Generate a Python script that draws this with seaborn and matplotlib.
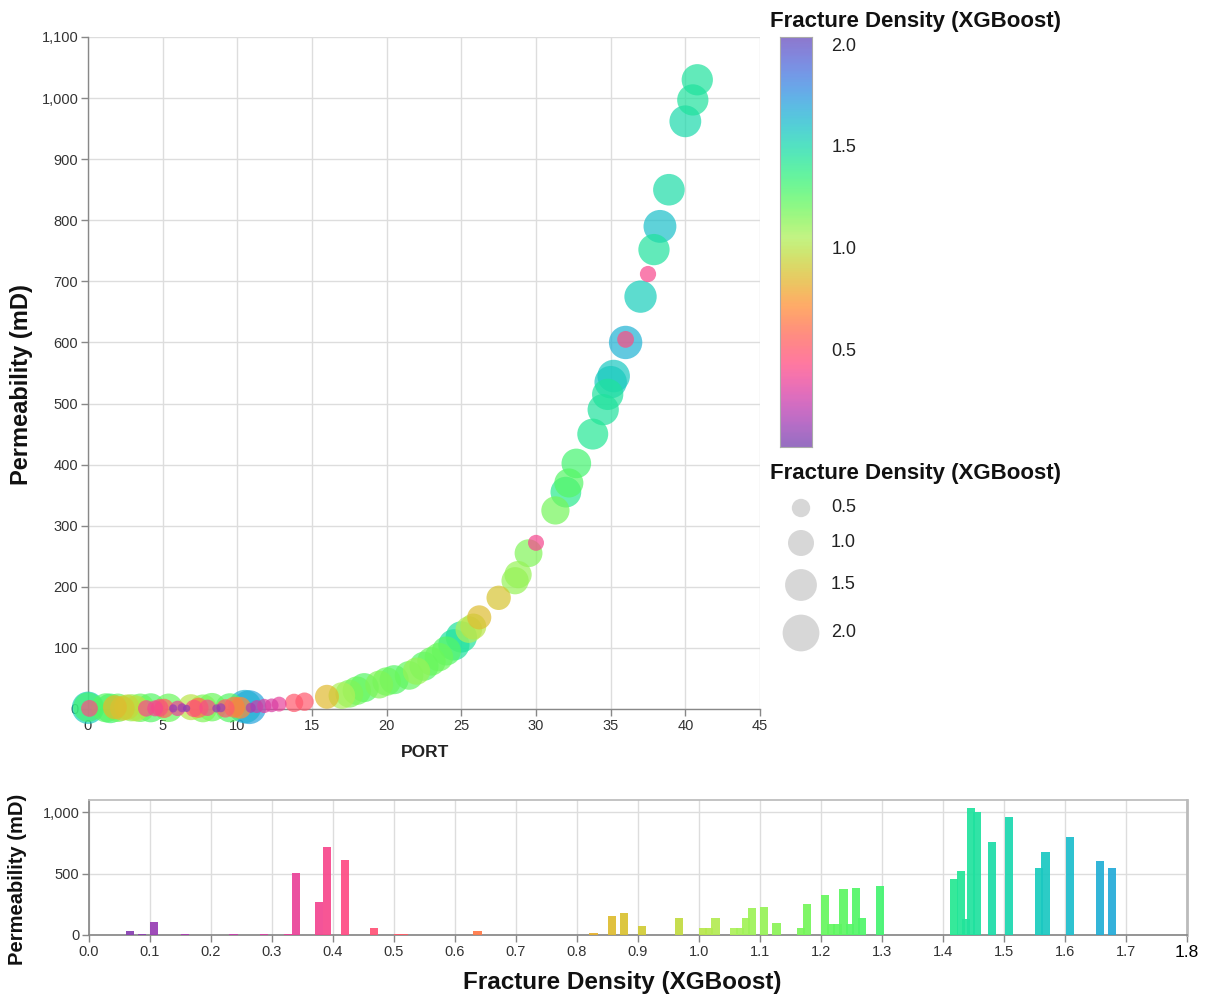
import numpy as np
import pandas as pd
import matplotlib
matplotlib.use("Agg")
import matplotlib.pyplot as plt
import seaborn as sns
from matplotlib.colors import ListedColormap, Normalize
from matplotlib.ticker import FuncFormatter, MultipleLocator

# ---------------- data ----------------
port = [0.0, 0.0, 0.1, 1.2, 1.5, 1.8, 2.0, 2.3, 2.6, 2.9, 3.2, 3.5,
        3.9, 4.2, 4.5, 4.8, 5.1, 5.4, 5.7, 6.0, 6.3, 6.6, 6.9, 7.1,
        7.4, 7.7, 8.0, 8.3, 8.6, 8.9, 9.2, 9.5, 9.8, 10.2, 10.5, 10.8,
        10.9, 11.3, 11.8, 12.3, 12.8, 13.8, 14.5,
        16.0, 17.0, 17.5, 18.0, 18.5, 19.5, 20.0, 20.5, 21.5, 22.0,
        22.5, 23.0, 23.5, 24.0, 24.5, 25.0, 25.5, 25.8, 26.2, 27.5,
        28.6, 28.8, 29.5, 30.0, 31.3, 32.0, 32.2, 32.7, 33.8, 34.5,
        34.8, 35.0, 35.2, 36.0, 36.0, 37.0, 37.5, 37.9, 38.3, 38.9,
        40.0, 40.5, 40.8]
perm = [2, 3, 1, 2, 1, 3, 2, 1, 3, 2, 1, 2,
        1, 2, 1, 2, 1, 2, 1, 1, 2, 1, 3, 1,
        2, 1, 2, 3, 1, 2, 1, 2, 3, 2, 4, 3,
        2, 4, 5, 6, 8, 10, 12,
        20, 22, 25, 30, 35, 40, 45, 48, 55, 62,
        70, 78, 85, 95, 105, 118, 130, 135, 150, 182,
        210, 220, 255, 272, 325, 355, 370, 402, 450, 490,
        515, 535, 545, 600, 605, 675, 712, 752, 790, 850,
        962, 997, 1030]
frac = [1.55, 1.30, 0.42, 1.25, 1.30, 0.85, 1.20, 0.90, 0.95, 1.10, 1.00, 1.20,
        0.40, 1.25, 0.38, 0.45, 0.55, 1.20, 0.10, 0.35, 0.12, 0.08, 1.00, 0.45,
        0.60, 1.15, 0.40, 1.20, 0.10, 0.12, 0.50, 1.25, 0.65, 0.70, 1.65, 1.70,
        0.15, 0.25, 0.30, 0.28, 0.33, 0.50, 0.50,
        0.85, 1.05, 1.15, 1.20, 1.25, 1.15, 1.20, 1.25, 1.22, 1.10,
        1.25, 1.20, 1.20, 1.25, 1.45, 1.45, 1.05, 1.00, 0.86, 0.88,
        1.10, 1.10, 1.15, 0.38, 1.18, 1.40, 1.25, 1.30, 1.42, 1.45,
        1.45, 1.56, 1.57, 1.65, 0.42, 1.55, 0.39, 1.45, 1.60, 1.48,
        1.50, 1.45, 1.45]

bar_fd = [0.067, 0.087, 0.107, 0.157, 0.237, 0.287, 0.327, 0.339, 0.377, 0.390,
          0.420, 0.467, 0.507, 0.517, 0.637, 0.827, 0.857, 0.877, 0.907, 0.967,
          1.007, 1.017, 1.027, 1.057, 1.067, 1.077, 1.087, 1.107, 1.127, 1.167,
          1.177, 1.207, 1.217, 1.227, 1.237, 1.247, 1.257, 1.267, 1.297, 1.418,
          1.429, 1.4375, 1.446, 1.456, 1.480, 1.508, 1.557, 1.568, 1.608, 1.658,
          1.677, 1.727]
bar_perm = [33, 5, 109, 5, 6, 8, 8, 507, 272, 714,
            610, 54, 12, 12, 33, 18, 155, 183, 74, 142,
            54, 54, 142, 60, 60, 136, 223, 232, 100, 54,
            256, 327, 87, 87, 373, 87, 379, 136, 403, 455,
            518, 133, 1035, 1000, 755, 965, 550, 673, 796, 600,
            542, 3]

legend_values = [0.5, 1.0, 1.5, 2.0]
cbar_ticks = [0.5, 1.0, 1.5, 2.0]

# ---------------- colour scale (d3 rainbow) ----------------
def d3_rainbow(t):
    t = np.asarray(t, dtype=float)
    ts = np.abs(t - 0.5)
    h = (360 * t - 100 + 120) * np.pi / 180
    s = 1.5 - 1.5 * ts
    l = 0.8 - 0.9 * ts
    a = s * l * (1 - l)
    c, sn = np.cos(h), np.sin(h)
    r = l + a * (-0.14861 * c + 1.78277 * sn)
    g = l + a * (-0.29227 * c - 0.90649 * sn)
    b = l + a * (1.97294 * c)
    return np.clip(np.stack([r, g, b], -1), 0, 1)

cmap = ListedColormap(d3_rainbow(np.linspace(0, 1, 256)))
norm = Normalize(0, 2.1)
SIZE_SCALE = (0, 700)
SIZE_NORM = (0, 2.0)

# ---------------- figure ----------------
sns.set_theme(style="whitegrid")
plt.rcParams["font.family"] = ["Liberation Sans", "DejaVu Sans"]

W, H = 1212, 998
fig = plt.figure(figsize=(W / 100, H / 100), dpi=100)
fig.patch.set_facecolor("white")

def fx(px):
    return px / W

def fy(py):
    return 1 - py / H

tick_color = "#333333"
grid_color = "#dddddd"
axis_color = "#888888"

# ---- top scatter ----
ax = fig.add_axes([fx(88), fy(709), fx(760) - fx(88), fy(37) - fy(709)])
df = pd.DataFrame({"PORT": port, "Permeability": perm, "Frac": frac})
df = df.sort_values("Frac", ascending=False, kind="stable")
sns.scatterplot(data=df, x="PORT", y="Permeability", hue="Frac", size="Frac",
                palette=cmap, hue_norm=norm, sizes=SIZE_SCALE, size_norm=SIZE_NORM,
                alpha=0.7, linewidth=0, legend=False, ax=ax, clip_on=False, zorder=3)
ax.set_xlim(0, 45)
ax.set_ylim(0, 1100)
ax.xaxis.set_major_locator(MultipleLocator(5))
ax.yaxis.set_major_locator(MultipleLocator(100))
ax.yaxis.set_major_formatter(FuncFormatter(lambda v, p: f"{int(v):,}"))
ax.grid(True, color=grid_color, linewidth=1)
ax.set_facecolor("white")
for side in ["top", "right"]:
    ax.spines[side].set_visible(False)
for side in ["left", "bottom"]:
    ax.spines[side].set_color(axis_color)
    ax.spines[side].set_linewidth(1)
ax.tick_params(axis="both", length=5, width=1, color=axis_color,
               labelsize=10.5, labelcolor=tick_color, pad=2, bottom=True, left=True)
ax.set_xlabel("PORT", fontsize=12.5, fontweight="bold", color="#222222")
ax.set_ylabel("Permeability (mD)", fontsize=17, fontweight="bold", color="#111111")
ax.xaxis.set_label_coords((425 - 88) / 672, (709 - 745) / 672)
ax.yaxis.set_label_coords((33 - 88) / 672, (709 - 385) / 672)

# ---- bottom bar chart ----
ax2 = fig.add_axes([fx(89), fy(935), fx(1187) - fx(89), fy(800) - fy(935)])
bar_colors = cmap(norm(np.array(bar_fd)))
ax2.bar(bar_fd, bar_perm, width=0.0135, align="center", color=bar_colors,
        alpha=0.92, linewidth=0, zorder=3)
ax2.set_xlim(0, 1.8)
ax2.set_ylim(0, 1100)
ax2.xaxis.set_major_locator(MultipleLocator(0.1))
ax2.set_yticks([0, 500, 1000])
ax2.yaxis.set_major_formatter(FuncFormatter(lambda v, p: f"{int(v):,}"))
ax2.xaxis.set_major_formatter(FuncFormatter(lambda v, p: f"{v:.1f}"))
ax2.grid(True, color=grid_color, linewidth=1)
ax2.set_facecolor("white")
for side in ["left", "bottom"]:
    ax2.spines[side].set_color(axis_color)
for side in ["top", "right"]:
    ax2.spines[side].set_color("#bbbbbb")
ax2.spines["right"].set_linewidth(2)
ax2.tick_params(axis="both", length=5, width=1, color=axis_color,
                labelsize=10.5, labelcolor=tick_color, pad=2, bottom=True, left=True)
ax2.set_xlabel("Fracture Density (XGBoost)", fontsize=17.5, fontweight="bold", color="#111111")
ax2.set_ylabel("Permeability (mD)", fontsize=14.5, fontweight="bold", color="#111111")
ax2.xaxis.set_label_coords((622 - 89) / 1098, (935 - 971) / 135)
ax2.yaxis.set_label_coords((27 - 89) / 1098, 0.41)
fig.canvas.draw()
for t in ax2.get_xticklabels():
    if t.get_text() == "1.8":
        t.set_fontsize(12.5)
        t.set_color("#000000")

# ---- colour legend ----
fig.text(fx(770), fy(21), "Fracture Density (XGBoost)", fontsize=16,
         fontweight="bold", ha="left", va="center", color="#111111")
cax = fig.add_axes([fx(780), fy(447), fx(812) - fx(780), fy(37) - fy(447)])
grad = np.linspace(0.02, 2.035, 300).reshape(-1, 1)
cax.imshow(grad, cmap=cmap, norm=norm, aspect="auto", origin="lower",
           extent=[0, 1, 0.02, 2.035], alpha=0.75)
cax.set_xticks([])
cax.yaxis.tick_right()
cax.set_yticks(cbar_ticks)
cax.yaxis.set_major_formatter(FuncFormatter(lambda v, p: f"{v:.1f}"))
cax.tick_params(axis="y", length=0, pad=14, labelsize=13, labelcolor="#222222")
cax.grid(False)
for s in cax.spines.values():
    s.set_color("#aaaaaa")
    s.set_linewidth(0.8)

# ---- size legend ----
fig.text(fx(770), fy(474), "Fracture Density (XGBoost)", fontsize=16,
         fontweight="bold", ha="left", va="center", color="#111111")
lax = fig.add_axes([fx(760), fy(660), fx(1100) - fx(760), fy(490) - fy(660)])
lax.set_xlim(760, 1100)
lax.set_ylim(660, 490)
lax.axis("off")
leg_y = [508, 543, 585, 633]
sizes_pts = [SIZE_SCALE[0] + (v - SIZE_NORM[0]) / (SIZE_NORM[1] - SIZE_NORM[0]) *
             (SIZE_SCALE[1] - SIZE_SCALE[0]) for v in legend_values]
lax.scatter([801] * len(legend_values), leg_y, s=sizes_pts, color="#d0d0d0",
            alpha=0.85, linewidth=0, clip_on=False)
for yv, v in zip(leg_y, legend_values):
    lax.text(831, yv, f"{v:.1f}", fontsize=13, va="center", ha="left", color="#222222")

fig.savefig("out.png", dpi=100, facecolor="white")
